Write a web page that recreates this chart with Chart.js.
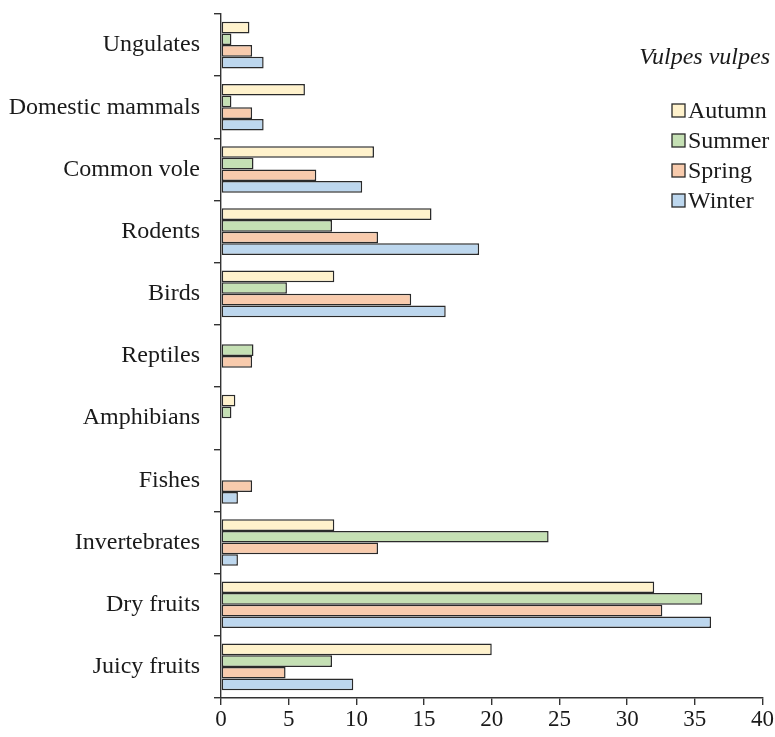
<!DOCTYPE html>
<html>
<head>
<meta charset="utf-8">
<script src="https://cdn.jsdelivr.net/npm/chart.js@4/dist/chart.umd.min.js"></script>
<style>
  html, body { margin: 0; padding: 0; background: #ffffff; }
  #wrap { width: 775px; height: 737px; position: relative; }
</style>
</head>
<body>
<div id="wrap"><canvas id="c" width="775" height="737"></canvas></div>
<script>
// Diet categories, listed top to bottom
const categories = ['Ungulates', 'Domestic mammals', 'Common vole', 'Rodents', 'Birds', 'Reptiles',
                    'Amphibians', 'Fishes', 'Invertebrates', 'Dry fruits', 'Juicy fruits'];

// Seasonal values per category (null = not recorded)
const autumn = [2.1, 6.2, 11.3, 15.55, 8.37, null, 1.06, null, 8.37, 32.0, 20.0];
const summer = [0.77, 0.77, 2.4, 8.2, 4.87, 2.4, 0.77, null, 24.2, 35.55, 8.2];
const spring = [2.3, 2.3, 7.04, 11.6, 14.05, 2.3, null, 2.3, 11.6, 32.6, 4.77];
const winter = [3.15, 3.15, 10.43, 19.07, 16.6, null, null, 1.25, 1.25, 36.2, 9.77];

const seasonNames = ['Autumn', 'Summer', 'Spring', 'Winter'];
const seasonColors = ['#FFF2CC', '#C5E0B4', '#F8CBAD', '#BDD7EE'];
const speciesTitle = 'Vulpes vulpes';

const xMin = 0, xMax = 40, xStep = 5;

const FONT = '"Liberation Serif", "Times New Roman", serif';
const TEXT = '#1a1a1a';
const LINE = '#333333';
const EDGE = '#2a2a2a';

const seriesValues = [autumn, summer, spring, winter];

const datasets = seriesValues.map((vals, i) => ({
  label: seasonNames[i],
  data: vals,
  backgroundColor: seasonColors[i],
  borderColor: EDGE,
  borderWidth: 1.5,
  borderSkipped: false,
  categoryPercentage: 0.75,
  barPercentage: 1.0
}));

// Species name and season key drawn in the upper right of the plot
const seasonKey = {
  id: 'seasonKey',
  afterDraw(chart) {
    const ctx = chart.ctx;
    ctx.save();
    ctx.fillStyle = TEXT;
    ctx.textBaseline = 'middle';
    ctx.textAlign = 'right';
    ctx.font = 'italic 24px ' + FONT;
    ctx.fillText(speciesTitle, 770, 58);

    ctx.font = '24px ' + FONT;
    ctx.textAlign = 'left';
    const rows = [111, 141, 171, 201];
    chart.data.datasets.forEach((ds, i) => {
      const y = rows[i];
      ctx.fillStyle = ds.backgroundColor;
      ctx.fillRect(672, y - 7, 13, 13);
      ctx.strokeStyle = EDGE;
      ctx.lineWidth = 1.3;
      ctx.strokeRect(672, y - 7, 13, 13);
      ctx.fillStyle = TEXT;
      ctx.fillText(ds.label, 688, y + 1);
    });
    ctx.restore();
  }
};

new Chart(document.getElementById('c'), {
  type: 'bar',
  data: { labels: categories, datasets },
  options: {
    indexAxis: 'y',
    responsive: false,
    animation: false,
    devicePixelRatio: 1,
    layout: { padding: { top: 14, right: 12, left: 0, bottom: 0 } },
    plugins: {
      legend: { display: false },
      tooltip: { enabled: false }
    },
    scales: {
      x: {
        min: xMin,
        max: xMax,
        ticks: {
          stepSize: xStep,
          color: TEXT,
          font: { family: FONT, size: 23 },
          padding: 1,
          maxRotation: 0
        },
        grid: {
          display: true,
          drawOnChartArea: false,
          drawTicks: true,
          tickLength: 7,
          color: LINE,
          lineWidth: 1.4
        },
        border: { display: true, color: LINE, width: 1.4 },
        afterFit(scale) { scale.height = 39; }
      },
      y: {
        ticks: {
          color: TEXT,
          font: { family: FONT, size: 24 },
          padding: 14
        },
        grid: {
          display: true,
          offset: true,
          drawOnChartArea: false,
          drawTicks: true,
          tickLength: 7,
          color: LINE,
          lineWidth: 1.4
        },
        border: { display: true, color: LINE, width: 1.4 },
        afterFit(scale) {
          scale.width = 221;
          // category labels sit between the boundary ticks, so no overhang space is needed
          scale.paddingTop = 0;
          scale.paddingBottom = 0;
        }
      }
    }
  },
  plugins: [seasonKey]
});
</script>
</body>
</html>
